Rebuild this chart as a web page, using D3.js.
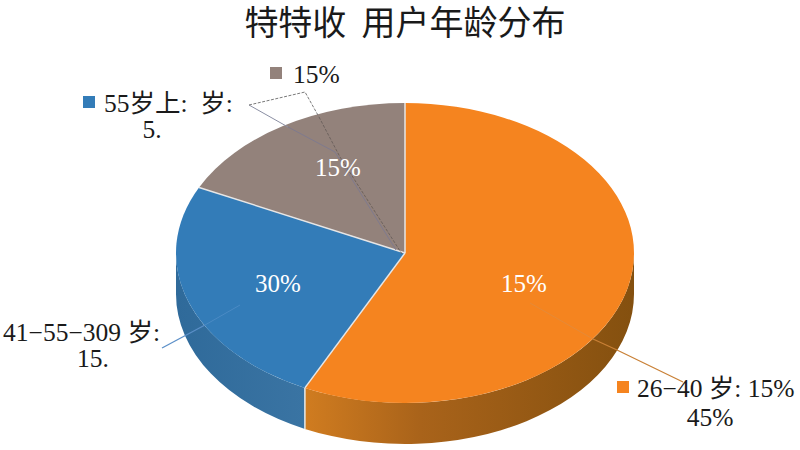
<!DOCTYPE html>
<html>
<head>
<meta charset="utf-8">
<script src="https://cdn.jsdelivr.net/npm/d3@7"></script>
<style>
    html, body { margin: 0; padding: 0; background: #fff; }
    svg { display: block; }
    text { font-family: "Liberation Serif", "Noto Sans CJK SC", serif; white-space: pre; }
</style>
</head>
<body>
<div id="chart"></div>
<script>
const titleText = "特特收  用户年龄分布";
const groups = ["26-40", "41-55", "55+"];
// slice shares as they are drawn in the picture, not what the labels say
const shares = [57.2, 25, 17.8];
const innerLabels = ["15%", "30%", "15%"];
const outerLabels = ["26−40 岁: 15%", "45%", "41−55−309 岁:", "15.", "55岁上:  岁:", "5.", "15%"];
const topColors = ["#f5841f", "#337cb8", "#93827b"];

const width = 800, height = 450;
const cx = 405, cy = 253, rx = 229, ry = 150, depth = 41;

const svg = d3.select("#chart")
    .append("svg")
    .attr("width", width)
    .attr("height", height);

svg.append("text")
    .attr("x", 405)
    .attr("y", 35)
    .attr("text-anchor", "middle")
    .style("font-family", "'Noto Sans CJK SC', sans-serif")
    .style("font-size", "34px")
    .style("fill", "#1a1a1a")
    .text(titleText);

const pie = d3.pie().sort(null).startAngle(0).endAngle(2 * Math.PI);
const slices = pie(shares);

// gradients for the side wall of the blue and orange slices
const defs = svg.append("defs");
const orangeGrad = defs.append("linearGradient").attr("id", "sideOrange")
    .attr("gradientUnits", "userSpaceOnUse")
    .attr("x1", 305).attr("x2", 634).attr("y1", 0).attr("y2", 0);
orangeGrad.append("stop").attr("offset", 0).attr("stop-color", "#d07c20");
orangeGrad.append("stop").attr("offset", 0.35).attr("stop-color", "#a9631a");
orangeGrad.append("stop").attr("offset", 1).attr("stop-color", "#84500f");
const blueGrad = defs.append("linearGradient").attr("id", "sideBlue")
    .attr("gradientUnits", "userSpaceOnUse")
    .attr("x1", 176).attr("x2", 305).attr("y1", 0).attr("y2", 0);
blueGrad.append("stop").attr("offset", 0).attr("stop-color", "#2f6a9a");
blueGrad.append("stop").attr("offset", 1).attr("stop-color", "#3a74a3");
const sideFills = ["url(#sideOrange)", "url(#sideBlue)", "#6e615c"];

// point on the rim, angle clockwise from the top
const rim = (a, dy = 0) => [cx + rx * Math.sin(a), cy - ry * Math.cos(a) + dy];

// only the front half of the rim (pi/2 .. 3pi/2) shows a wall
function sidePath(d) {
    const a0 = Math.max(d.startAngle, Math.PI / 2);
    const a1 = Math.min(d.endAngle, 3 * Math.PI / 2);
    if (a1 <= a0) return null;
    const p0 = rim(a0), p1 = rim(a1), p2 = rim(a0, depth);
    const p1b = rim(a1, depth);
    return `M${p0}A${rx},${ry} 0 0 1 ${p1}L${p1b}A${rx},${ry} 0 0 0 ${p2}Z`;
}

svg.append("g").selectAll("path")
    .data(slices)
    .enter().append("path")
    .attr("d", sidePath)
    .style("fill", (d, i) => sideFills[i]);

// white seam down the wall between orange and blue
const seam = rim(slices[1].startAngle);
svg.append("line")
    .attr("x1", seam[0]).attr("y1", seam[1])
    .attr("x2", seam[0]).attr("y2", seam[1] + depth)
    .style("stroke", "#e8e8e8")
    .style("stroke-width", 1.5);

const arc = d3.arc().innerRadius(0).outerRadius(rx);

svg.append("g")
    .attr("transform", `translate(${cx},${cy}) scale(1,${ry / rx})`)
    .selectAll("path")
    .data(slices)
    .enter().append("path")
    .attr("d", arc)
    .style("fill", (d, i) => topColors[i]);

// seams between the slices, none on the outer rim
svg.append("g").selectAll("line")
    .data(slices)
    .enter().append("line")
    .attr("x1", cx)
    .attr("y1", cy)
    .attr("x2", d => rim(d.startAngle)[0])
    .attr("y2", d => rim(d.startAngle)[1])
    .style("stroke", "#e6e6e6")
    .style("stroke-width", 1.5);

// leader lines, faint where they cross the pie
const leaders = [
    { d: "M530,303L593,339", color: "#e58a38", dash: null, w: 1 },
    { d: "M593,339L617,350L683,382", color: "#c98036", dash: null, w: 1.3 },
    { d: "M205,325L240,305", color: "#4a8ac4", dash: null, w: 1 },
    { d: "M162,348L205,325", color: "#5b8fc8", dash: null, w: 1.3 },
    { d: "M249,105L288,127", color: "#8b8fa3", dash: null, w: 1 },
    { d: "M288,127L335,152L396,250", color: "#7f7a8e", dash: null, w: 1 },
    { d: "M249,105L305,92L319,117", color: "#7a7a7a", dash: "3,1.5", w: 1 },
    { d: "M319,117L340,157L402,254", color: "#6d625e", dash: "3,1.5", w: 1 }
];
svg.append("g").selectAll("path")
    .data(leaders)
    .enter().append("path")
    .attr("d", d => d.d)
    .style("fill", "none")
    .style("stroke", d => d.color)
    .style("stroke-width", d => d.w)
    .style("stroke-dasharray", d => d.dash);

// labels on the pie
const innerPos = [[524, 292], [278, 292], [338, 176]];
svg.append("g").selectAll("text")
    .data(innerLabels)
    .enter().append("text")
    .attr("x", (d, i) => innerPos[i][0])
    .attr("y", (d, i) => innerPos[i][1])
    .attr("text-anchor", "middle")
    .style("font-size", "25px")
    .style("fill", "#fff")
    .text(d => d);

// labels outside the pie
const outerPos = [[637, 397], [710, 426], [3, 341], [93, 367], [104, 112], [152, 138], [293, 83]];
svg.append("g").selectAll("text")
    .data(outerLabels)
    .enter().append("text")
    .attr("x", (d, i) => outerPos[i][0])
    .attr("y", (d, i) => outerPos[i][1])
    .attr("text-anchor", (d, i) => [1, 3, 5].includes(i) ? "middle" : "start")
    .style("font-size", "25.5px")
    .style("fill", "#1a1a1a")
    .text(d => d);

// little colour keys in front of the labels
const keyPos = [[617, 381], [83, 96], [270, 67]];
svg.append("g").selectAll("rect")
    .data(topColors)
    .enter().append("rect")
    .attr("x", (d, i) => keyPos[i][0])
    .attr("y", (d, i) => keyPos[i][1])
    .attr("width", 12)
    .attr("height", 12)
    .style("fill", d => d);
</script>
</body>
</html>
